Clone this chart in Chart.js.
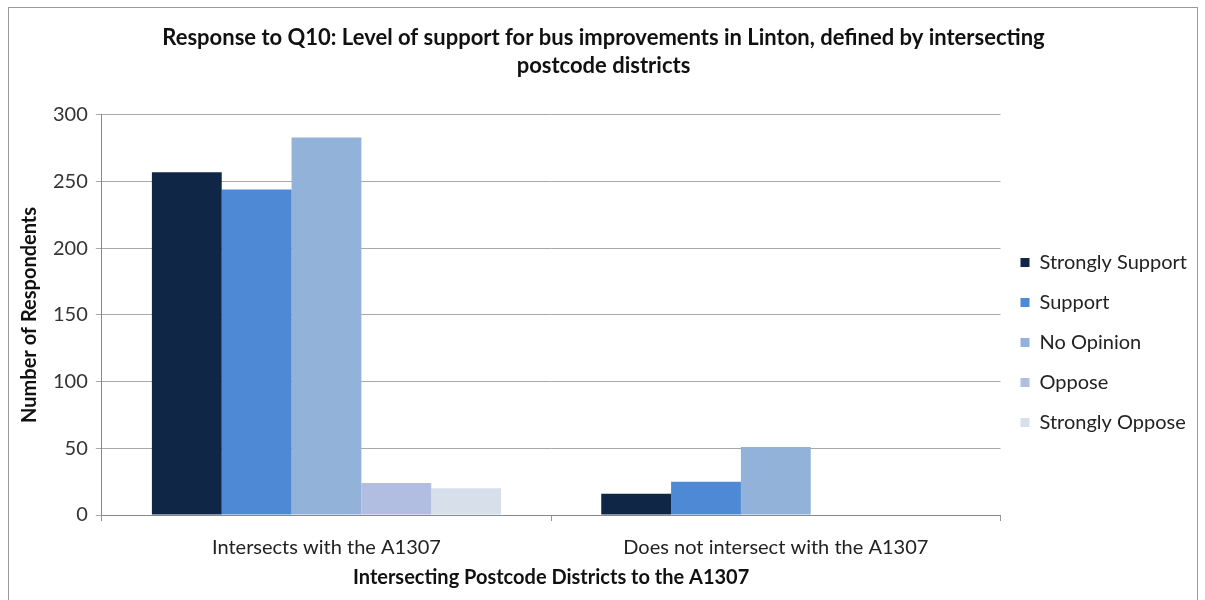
<!DOCTYPE html>
<html>
<head>
<meta charset="utf-8">
<script src="https://cdn.jsdelivr.net/npm/chart.js@4"></script>
<style>
  html, body { margin: 0; padding: 0; background: #fff; }
  #wrap { position: absolute; left: 8px; top: 7px; width: 1190px; height: 600px; border: 1px solid #9a9a9a; box-sizing: border-box; }
  canvas { position: absolute; left: 0; top: 0; }
</style>
</head>
<body>
<div id="wrap"></div>
<canvas id="chart" width="1205" height="600"></canvas>
<script>
// chart data
const categories = ['Intersects with the A1307', 'Does not intersect with the A1307'];
const seriesNames = ['Strongly Support', 'Support', 'No Opinion', 'Oppose', 'Strongly Oppose'];
const stronglySupport = [257, 16];
const support = [244, 25];
const noOpinion = [283, 51];
const oppose = [24, 0];
const stronglyOppose = [20, 0];
const yTicks = [0, 50, 100, 150, 200, 250, 300];

const colors = ['#0f2646', '#4e89d6', '#93b2d9', '#b1bee2', '#d7dfeb'];
const values = [stronglySupport, support, noOpinion, oppose, stronglyOppose];

const font = 'Lato, "Open Sans", sans-serif';

const ctx = document.getElementById('chart').getContext('2d');
new Chart(ctx, {
  type: 'bar',
  data: {
    labels: categories,
    datasets: seriesNames.map((name, i) => ({
      label: name,
      data: values[i],
      backgroundColor: colors[i],
      borderWidth: 0,
      categoryPercentage: 0.777,
      barPercentage: 1.0
    }))
  },
  options: {
    responsive: false,
    animation: false,
    layout: { padding: { left: 10, right: 8, top: 0, bottom: 6 } },
    plugins: {
      title: {
        display: true,
        text: ['Response to Q10: Level of support for bus improvements in Linton, defined by intersecting', 'postcode districts'],
        color: '#111',
        font: { family: font, size: 22, weight: 'bold', lineHeight: 1.27 },
        padding: { top: 24, bottom: 35 }
      },
      legend: {
        position: 'right',
        align: 'center',
        // blank title only pushes the legend items down a little
        title: { display: true, text: ' ', font: { size: 10, lineHeight: 1.2 }, padding: { top: 79, bottom: 0 } },
        labels: {
          color: '#222',
          font: { family: font, size: 20 },
          boxWidth: 9,
          boxHeight: 9,
          padding: 20
        }
      },
      tooltip: { enabled: false }
    },
    scales: {
      x: {
        grid: { display: true, drawOnChartArea: false, color: '#999', tickLength: 6, offset: true },
        border: { color: '#888' },
        ticks: { color: '#222', font: { family: font, size: 20 }, padding: 15 },
        title: {
          display: true,
          text: 'Intersecting Postcode Districts to the A1307',
          color: '#111',
          font: { family: font, size: 20, weight: 'bold' },
          padding: { top: -9, bottom: 4 }
        }
      },
      y: {
        min: 0,
        max: 300,
        afterBuildTicks: axis => { axis.ticks = yTicks.map(v => ({ value: v })); },
        grid: { color: '#a8a8a8', tickLength: 6 },
        border: { color: '#888' },
        ticks: { color: '#333', font: { family: font, size: 20 }, padding: 8 },
        title: {
          display: true,
          text: 'Number of Respondents',
          color: '#111',
          font: { family: font, size: 20, weight: 'bold' },
          padding: { top: 8, bottom: 3 }
        }
      }
    }
  }
});
</script>
</body>
</html>
